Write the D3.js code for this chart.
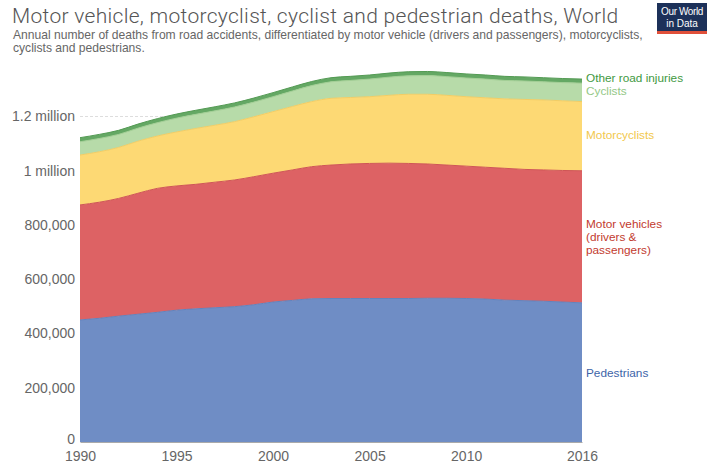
<!DOCTYPE html>
<html><head><meta charset="utf-8">
<script src="https://cdn.jsdelivr.net/npm/d3@7"></script>
<style>
body{margin:0;background:#fff;}
svg{display:block;font-family:"Liberation Sans",Arial,sans-serif;}
</style></head>
<body><svg id="c" width="713" height="466"></svg>
<script>
const years = [1990,1991,1992,1993,1994,1995,1996,1997,1998,1999,2000,2001,2002,2003,2004,2005,2006,2007,2008,2009,2010,2011,2012,2013,2014,2015,2016];
const pedestrians = [450,456,464,471,478,486,491,495,499,506,516,522,528,529,529,529,529,529,530,530,529,527,523,521,519,516,513].map(v=>v*1000);
const motorVehicles = [424,428,434,446,457,458,459,463,467,472,475,481,487,492,496,498,499,498,495,491,488,486,486,484,484,485,487].map(v=>v*1000);
const motorcyclists = [184,186,188,192,193,199,206,210,215,221,227,234,240,246,245,246,250,255,257,257,256,256,256,258,258,257,255].map(v=>v*1000);
const cyclists = [49,49,48,48,49,51,52,53,54,54,55,57,59,61,63,65,67,68,69,69,69,69,68,68,67,67,68].map(v=>v*1000);
const otherRoad = [15,15,15,15,15,15,15,15,15,15,15,15,15,15,15,15,15,15,15,15,15,15,15,15,15,15,15].map(v=>v*1000);
const seriesNames = ["Pedestrians","Motor vehicles","Motorcyclists","Cyclists","Other road injuries"];
const yTicks = [0,200000,400000,600000,800000,1000000,1200000];
const yTickLabels = ["0","200,000","400,000","600,000","800,000","1 million","1.2 million"];
const xTicks = [1990,1995,2000,2005,2010,2016];

const fills = ["#6f8dc5","#dd6264","#fdd974","#b7dba9","#64a864"];
const strokes = ["#6283bd","#cf5556","#f3cd64","#a3cf95","#539a53"];
const labelColors = ["#3d64a8","#c23a2e","#f2c84b","#93c886","#3f993f"];

const svg = d3.select("#c");
const x = d3.scaleLinear().domain([1990,2016]).range([80,582]);
const y = d3.scaleLinear().domain([0,1200000]).range([442,116.5]);

const table = years.map((yr,i)=>({year:yr,
  "Pedestrians":pedestrians[i],"Motor vehicles":motorVehicles[i],"Motorcyclists":motorcyclists[i],
  "Cyclists":cyclists[i],"Other road injuries":otherRoad[i]}));
const stacked = d3.stack().keys(seriesNames)(table);

// title
svg.append("text").attr("x",12).attr("y",23).attr("font-size",21).attr("fill","#555")
  .attr("font-family","Roboto,'Liberation Sans',sans-serif").attr("font-weight",300).attr("letter-spacing",0.3)
  .text("Motor vehicle, motorcyclist, cyclist and pedestrian deaths, World");
svg.append("text").attr("x",13).attr("y",39).attr("font-size",12.1).attr("fill","#666")
  .text("Annual number of deaths from road accidents, differentiated by motor vehicle (drivers and passengers), motorcyclists,");
svg.append("text").attr("x",13).attr("y",52).attr("font-size",12.1).attr("fill","#666")
  .text("cyclists and pedestrians.");

// logo
const lg = svg.append("g").attr("transform","translate(657,3)");
lg.append("rect").attr("width",50).attr("height",30).attr("fill","#1d3159");
lg.append("rect").attr("y",28).attr("width",50).attr("height",3).attr("fill","#e0503a");
lg.append("text").attr("x",25).attr("y",12).attr("text-anchor","middle").attr("font-size",10).attr("fill","#fff").attr("letter-spacing",-0.4).text("Our World");
lg.append("text").attr("x",25).attr("y",24).attr("text-anchor","middle").attr("font-size",10).attr("fill","#fff").text("in Data");

// gridlines
svg.append("g").selectAll("line").data(yTicks.slice(1)).join("line")
  .attr("x1",80).attr("x2",582).attr("y1",d=>y(d)).attr("y2",d=>y(d))
  .attr("stroke","#ddd").attr("stroke-dasharray","3,2");

// areas
const area = d3.area().x((d,i)=>x(years[i])).y0(d=>y(d[0])).y1(d=>y(d[1])).curve(d3.curveMonotoneX);
const line = d3.line().x((d,i)=>x(years[i])).y(d=>y(d[1])).curve(d3.curveMonotoneX);
svg.append("g").selectAll("path").data(stacked).join("path")
  .attr("d",area).attr("fill",(d,i)=>fills[i]);
svg.append("g").selectAll("path").data(stacked).join("path")
  .attr("d",line).attr("fill","none").attr("stroke",(d,i)=>strokes[i]).attr("stroke-width",1);

// y axis labels
const ya = svg.append("g").attr("transform","translate(80,0)")
  .call(d3.axisLeft(y).tickValues(yTicks).tickFormat((d,i)=>yTickLabels[i]).tickSize(0).tickPadding(5));
ya.select(".domain").remove();
ya.selectAll("text").attr("font-size",14).attr("fill","#666").attr("font-family","'Liberation Sans',Arial,sans-serif");
ya.selectAll(".tick").filter(d=>d===0).select("text").attr("dy","0.1em");

// x axis
const xa = svg.append("g").attr("transform","translate(0,442)")
  .call(d3.axisBottom(x).tickValues(xTicks).tickFormat(d3.format("d")).tickSize(0).tickPadding(9));
xa.select(".domain").attr("stroke","#aaa");
xa.selectAll("text").attr("font-size",14).attr("fill","#666").attr("font-family","'Liberation Sans',Arial,sans-serif");

// right labels
const labs = [
  {s:4, lines:["Other road injuries"], y:82},
  {s:3, lines:["Cyclists"], y:95},
  {s:2, lines:["Motorcyclists"], y:139},
  {s:1, lines:["Motor vehicles","(drivers &","passengers)"], y:228},
  {s:0, lines:["Pedestrians"], y:377}
];
labs.forEach(l=>{
  const t = svg.append("text").attr("x",586).attr("y",l.y).attr("font-size",11.8).attr("fill",labelColors[l.s]);
  l.lines.forEach((ln,j)=>t.append("tspan").attr("x",586).attr("dy",j?13:0).text(ln));
});
</script></body></html>
